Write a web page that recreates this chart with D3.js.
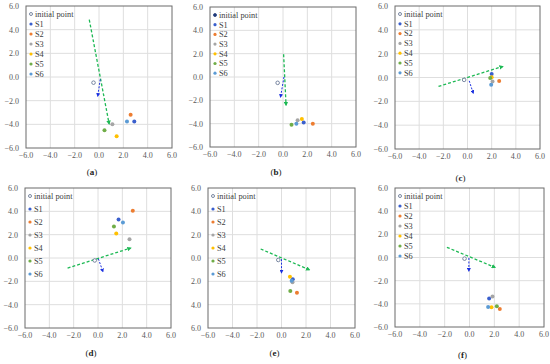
<!DOCTYPE html>
<html>
<head>
<meta charset="utf-8">
<script src="https://cdn.jsdelivr.net/npm/d3@7"></script>
<style>
body { margin: 0; background: #fff; }
text { font-family: "Liberation Serif", "DejaVu Serif", serif; }
</style>
</head>
<body>
<svg id="chart" width="550" height="364"></svg>
<script>
// data
const panelNames = ["a", "b", "c", "d", "e", "f"];
const seriesNames = ["S1", "S2", "S3", "S4", "S5", "S6"];
const tickValues = [-6, -4, -2, 0, 2, 4, 6];
const yTickLabelsE = ["6.0", "4.0", "2.0", "0.0", "2.0", "4.0", "6.0"];

const initialX = [-0.45, -0.44, -0.28, -0.27, -0.26, -0.4];
const initialY = [-0.48, -0.5, -0.2, -0.21, -0.17, -0.1];

// blue dashed arrow: [x1, y1, x2, y2]
const blueArrows = [
    [0.1, -0.2, -0.1, -1.6],
    [0.08, 0.0, -0.2, -1.7],
    [0.14, -0.28, 0.47, -1.3],
    [0.03, -0.07, 0.4, -1.15],
    [0.0, -0.1, 0.0, -1.25],
    [-0.05, -0.04, -0.05, -1.15]
];
// green dashed arrow
const greenArrows = [
    [-0.8, 4.85, 0.83, -3.95],
    [0.05, 1.95, 0.25, -2.4],
    [-2.4, -0.75, 2.9, 0.92],
    [-2.5, -0.87, 2.67, 0.85],
    [-1.7, 0.77, 2.26, -1.0],
    [-1.82, 0.88, 2.04, -0.85]
];

const seriesX = [
    [2.9, 2.6, 1.1, 1.45, 0.45, 2.3],
    [1.7, 2.45, 1.2, 1.55, 0.7, 1.1],
    [2.0, 2.62, 2.07, 2.0, 1.88, 1.96],
    [1.69, 2.86, 2.59, 1.5, 1.31, 2.05],
    [0.92, 1.26, 0.9, 0.69, 0.72, 0.83],
    [1.58, 2.44, 1.85, 1.77, 2.2, 1.5]
];
const seriesY = [
    [-3.75, -3.2, -4.0, -5.0, -4.5, -3.75],
    [-3.9, -4.0, -3.7, -3.6, -4.1, -4.0],
    [0.3, -0.3, -0.33, 0.03, -0.05, -0.61],
    [3.3, 4.05, 1.6, 2.1, 2.7, 3.05],
    [-1.83, -2.97, -2.08, -1.6, -2.83, -1.94],
    [-3.54, -4.45, -3.36, -4.3, -4.2, -4.28]
];

const colors = ["#3a5fcd", "#ed7d31", "#a5a5a5", "#ffc000", "#70ad47", "#5b9bd5"];

// plot-area boxes in pixels: left, right, top, bottom, legend row step
const boxes = [
    {l: 26, r: 172, t: 6, b: 148, step: 10, capY: 175},
    {l: 210, r: 356, t: 7, b: 147, step: 9.7, capY: 175},
    {l: 395, r: 540, t: 6, b: 149, step: 9.8, capY: 181},
    {l: 25, r: 171, t: 188, b: 328, step: 13, capY: 356},
    {l: 208, r: 355, t: 188, b: 328, step: 13, capY: 356},
    {l: 395, r: 544, t: 188, b: 327, step: 10, capY: 358}
];

const svg = d3.select("#chart");

const defs = svg.append("defs");
const addArrow = (id, col, size) => {
    defs.append("marker")
        .attr("id", id)
        .attr("viewBox", "0 0 10 10")
        .attr("refX", 7)
        .attr("refY", 5)
        .attr("markerUnits", "userSpaceOnUse")
        .attr("markerWidth", size)
        .attr("markerHeight", size)
        .attr("orient", "auto")
        .append("path")
        .attr("d", "M0,0L10,5L0,10z")
        .attr("fill", col);
};
addArrow("arrBlue", "#1a2fe0", 4);
addArrow("arrGreen", "#1db954", 4.5);

panelNames.forEach((name, i) => {
    const bx = boxes[i];
    const x = d3.scaleLinear().domain([-6, 6]).range([bx.l, bx.r]);
    const y = d3.scaleLinear().domain([-6, 6]).range([bx.b, bx.t]);
    const g = svg.append("g");

    // gridlines
    g.selectAll(".gx").data(tickValues.slice(1, -1)).enter()
        .append("line")
        .attr("x1", d => x(d)).attr("x2", d => x(d))
        .attr("y1", bx.t).attr("y2", bx.b)
        .attr("stroke", "#dedede").attr("stroke-width", 1);
    g.selectAll(".gy").data(tickValues.slice(1, -1)).enter()
        .append("line")
        .attr("y1", d => y(d)).attr("y2", d => y(d))
        .attr("x1", bx.l).attr("x2", bx.r)
        .attr("stroke", "#dedede").attr("stroke-width", 1);

    // frame
    g.append("rect")
        .attr("x", bx.l).attr("y", bx.t)
        .attr("width", bx.r - bx.l).attr("height", bx.b - bx.t)
        .attr("fill", "none").attr("stroke", "#6b6b6b").attr("stroke-width", 1);

    // tick labels
    g.selectAll(".tx").data(tickValues).enter()
        .append("text")
        .attr("x", d => x(d))
        .attr("y", bx.b + 10)
        .attr("text-anchor", "middle")
        .attr("font-size", "8px")
        .attr("fill", "#595959")
        .text(d => d3.format(".1f")(d));
    g.selectAll(".ty").data(tickValues).enter()
        .append("text")
        .attr("x", bx.l - 7)
        .attr("y", d => y(d) + 3)
        .attr("text-anchor", "end")
        .attr("font-size", "8px")
        .attr("fill", "#595959")
        .text((d, k) => name === "e" ? yTickLabelsE[k] : d3.format(".1f")(d));

    // caption
    const cap = g.append("text")
        .attr("x", (bx.l + bx.r) / 2 - 7)
        .attr("y", bx.capY)
        .attr("text-anchor", "middle")
        .attr("font-size", "9px")
        .attr("fill", "#222");
    cap.append("tspan").text("(");
    cap.append("tspan").attr("font-weight", "bold").text(name);
    cap.append("tspan").text(")");

    // green dashed arrow
    const ga = greenArrows[i];
    g.append("line")
        .attr("x1", x(ga[0])).attr("y1", y(ga[1]))
        .attr("x2", x(ga[2])).attr("y2", y(ga[3]))
        .attr("stroke", "#1db954").attr("stroke-width", 1.3)
        .attr("stroke-dasharray", "3,2")
        .attr("marker-end", "url(#arrGreen)");

    // blue dashed arrow
    const ba = blueArrows[i];
    g.append("line")
        .attr("x1", x(ba[0])).attr("y1", y(ba[1]))
        .attr("x2", x(ba[2])).attr("y2", y(ba[3]))
        .attr("stroke", "#1a2fe0").attr("stroke-width", 1)
        .attr("stroke-dasharray", "2,1.5")
        .attr("marker-end", "url(#arrBlue)");

    // initial point
    g.append("circle")
        .attr("cx", x(initialX[i])).attr("cy", y(initialY[i]))
        .attr("r", 1.8)
        .attr("fill", "#fff").attr("stroke", "#5a6b8c").attr("stroke-width", 0.8);

    // S points
    g.selectAll(".pt").data(seriesNames).enter()
        .append("circle")
        .attr("cx", (d, k) => x(seriesX[i][k]))
        .attr("cy", (d, k) => y(seriesY[i][k]))
        .attr("r", 2)
        .attr("fill", (d, k) => colors[k]);

    // legend
    const lg = g.append("g")
        .attr("transform", "translate(" + (bx.l + 5) + "," + (bx.t + 8) + ")");
    const items = ["initial point"].concat(seriesNames);
    items.forEach((label, k) => {
        const yy = k * bx.step;
        if (k === 0) {
            lg.append("circle")
                .attr("cx", 0).attr("cy", yy).attr("r", 1.5)
                .attr("fill", name === "b" ? "#1f3a7a" : "#fff")
                .attr("stroke", name === "b" ? "#1f3a7a" : "#5a6b8c")
                .attr("stroke-width", 0.8);
        } else {
            lg.append("circle")
                .attr("cx", 0).attr("cy", yy).attr("r", 1.6)
                .attr("fill", colors[k - 1]);
        }
        lg.append("text")
            .attr("x", 4).attr("y", yy + 2.8)
            .attr("font-size", "8.3px")
            .attr("fill", "#404040")
            .text(label);
    });
});
</script>
</body>
</html>
